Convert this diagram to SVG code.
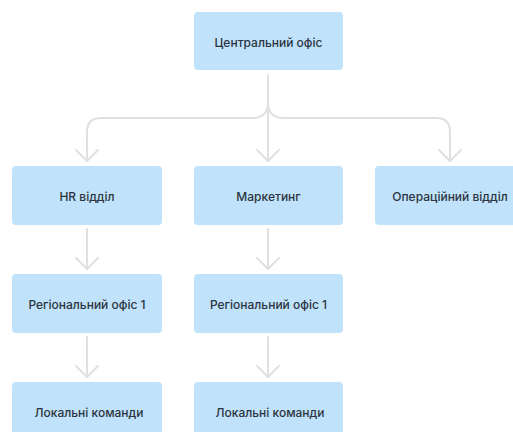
<svg xmlns="http://www.w3.org/2000/svg" width="513" height="432" viewBox="0 0 513 432">
<style>
.box{fill:#c0e2fb;}
.lbl{font-family:Inter,"Noto Sans",sans-serif;font-size:12px;font-weight:500;fill:#2b3440;text-anchor:middle;dominant-baseline:central;}
.edge{fill:none;stroke:#e0e0e0;stroke-width:2;stroke-linecap:round;stroke-linejoin:round;}
</style>
<defs>
<marker id="arr" viewBox="0 0 14 24" refX="12" refY="12" markerWidth="14" markerHeight="24" markerUnits="userSpaceOnUse" orient="auto">
<path d="M1,1 L12,12 L1,23" fill="none" stroke="#e0e0e0" stroke-width="2" stroke-linecap="round" stroke-linejoin="round"/>
</marker>
</defs>
<rect width="513" height="432" fill="#ffffff"/>
<g id="connectors">
<path class="edge" d="M268,75 V161" marker-end="url(#arr)"/>
<path class="edge" d="M268,102 Q268,118 252,118 H101 Q87,118 87,132 V161" marker-end="url(#arr)"/>
<path class="edge" d="M268,102 Q268,118 284,118 H436 Q450,118 450,132 V161" marker-end="url(#arr)"/>
<path class="edge" d="M87,229 V269" marker-end="url(#arr)"/>
<path class="edge" d="M268,229 V269" marker-end="url(#arr)"/>
<path class="edge" d="M87,337 V377" marker-end="url(#arr)"/>
<path class="edge" d="M268,337 V377" marker-end="url(#arr)"/>
</g>
<g id="central"><rect class="box" x="194" y="12" width="149" height="58" rx="4"/><text class="lbl" x="268.5" y="42">Центральний офіс</text></g>
<g id="hr"><rect class="box" x="12" y="166" width="150" height="59" rx="4"/><text class="lbl" x="87" y="196">HR відділ</text></g>
<g id="marketing"><rect class="box" x="194" y="166" width="149" height="59" rx="4"/><text class="lbl" x="268.5" y="196">Маркетинг</text></g>
<g id="ops"><rect class="box" x="375" y="166" width="150" height="59" rx="4"/><text class="lbl" x="450" y="196">Операційний відділ</text></g>
<g id="reg1"><rect class="box" x="12" y="274" width="150" height="59" rx="4"/><text class="lbl" x="87" y="304">Регіональний офіс 1</text></g>
<g id="reg2"><rect class="box" x="194" y="274" width="149" height="59" rx="4"/><text class="lbl" x="268.5" y="304">Регіональний офіс 1</text></g>
<g id="local1"><rect class="box" x="12" y="382" width="150" height="59" rx="4"/><text class="lbl" x="89" y="412">Локальні команди</text></g>
<g id="local2"><rect class="box" x="194" y="382" width="149" height="59" rx="4"/><text class="lbl" x="270" y="412">Локальні команди</text></g>
</svg>
